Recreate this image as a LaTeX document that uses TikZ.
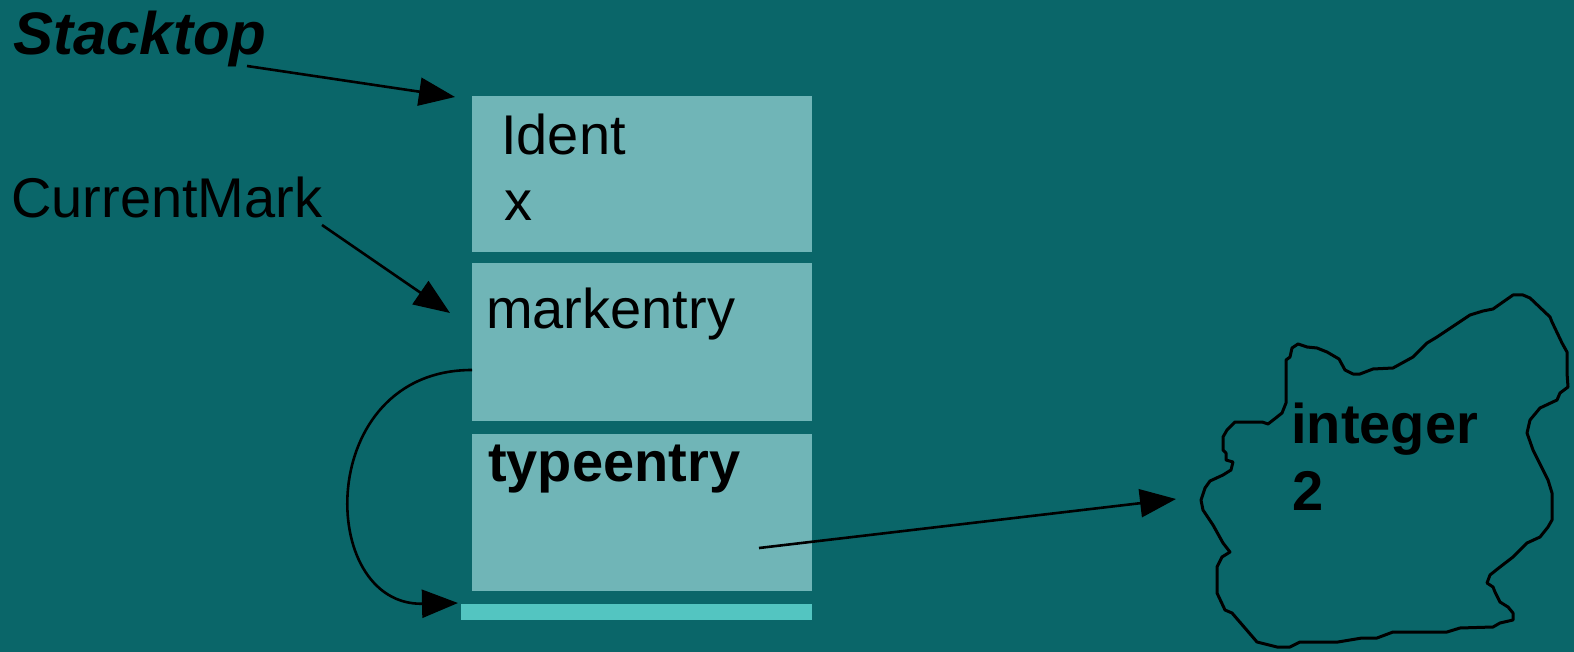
\documentclass[tikz,border=0pt]{standalone}
\usepackage{fontspec}
\setmainfont{Liberation Sans}
\usetikzlibrary{arrows.meta}
\definecolor{bgteal}{HTML}{0A6669}
\definecolor{boxteal}{HTML}{70B5B7}
\definecolor{barteal}{HTML}{53C5C1}
\tikzset{
  entrybox/.style={rectangle, fill=boxteal, draw=none, inner sep=0pt},
  lbl/.style={anchor=base west, inner sep=0pt, font=\fontsize{56}{66}\selectfont, text=black},
  conn/.style={line width=2.6pt, -{Triangle[length=36pt,width=28pt]}},
}
\begin{document}
\begin{tikzpicture}[x=1pt,y=-1pt]
\fill[bgteal] (0,0) rectangle (1574,652);
\useasboundingbox (0,0) rectangle (1574,652);
% boxes
\node[entrybox, minimum width=340pt, minimum height=156pt] (b1) at (642,174) {};
\node[entrybox, minimum width=340pt, minimum height=158pt] (b2) at (642,342) {};
\node[entrybox, minimum width=340pt, minimum height=157pt] (b3) at (642,512.5) {};
\node[rectangle, fill=barteal, inner sep=0pt, minimum width=351pt, minimum height=16pt] (bar) at (636.5,612) {};
% texts
\node[lbl] (ident) at (501,155) {Ident};
\node[lbl] (xv) at (504,221) {x};
\node[lbl] (mark) at (486,328) {markentry};
\node[lbl, font=\fontsize{56}{66}\selectfont\bfseries] (type) at (488,481) {typeentry};
\node[lbl, font=\fontsize{60}{66}\selectfont\bfseries\itshape] (stack) at (13,55) {Stacktop};
\node[lbl] (cur) at (11,218) {CurrentMark};
% cloud
\draw[line width=3pt, line join=round] (1523,295) -- (1513,295) -- (1493,309) -- (1483,311) -- (1470,315) -- (1437,337) -- (1427,343) -- (1413,357) -- (1393,368) -- (1373,369) -- (1360,374) -- (1353,374) -- (1345,370) -- (1339,359) -- (1327,352) -- (1317,348) -- (1307,347) -- (1298,344) -- (1292,348) -- (1290,357) -- (1286,360) -- (1286,403) -- (1282,413) -- (1277,417) -- (1268,424) -- (1262,422) -- (1235,422) -- (1227,430) -- (1223,437) -- (1223,450) -- (1226,453) -- (1226,460) -- (1233,462) -- (1231,470) -- (1223,475) -- (1210,481) -- (1205,488) -- (1201,500) -- (1203,510) -- (1213,525) -- (1223,543) -- (1230,552) -- (1222,557) -- (1217,567) -- (1217,593) -- (1225,610) -- (1232,613) -- (1257,642) -- (1277,647) -- (1290,647) -- (1300,642) -- (1317,642) -- (1338,642) -- (1362,638) -- (1377,638) -- (1393,632) -- (1447,632) -- (1460,628) -- (1493,627) -- (1500,623) -- (1513,620) -- (1513,613) -- (1508,607) -- (1500,602) -- (1495,592) -- (1493,587) -- (1487,583) -- (1490,575) -- (1500,567) -- (1513,557) -- (1527,543) -- (1540,537) -- (1548,527) -- (1552,520) -- (1552,493) -- (1548,480) -- (1533,450) -- (1527,433) -- (1530,420) -- (1540,408) -- (1557,400) -- (1560,393) -- (1568,387) -- (1567,373) -- (1567,352) -- (1562,343) -- (1552,322) -- (1550,317) -- (1530,298) -- cycle;
\node[lbl, font=\fontsize{56}{66}\selectfont\bfseries] (int) at (1291,443) {integer};
\node[lbl, font=\fontsize{56}{66}\selectfont\bfseries] (two) at (1292,510) {2};
% connector coordinates
\coordinate (stA) at (247,66);
\coordinate (stB) at (455,97);
\coordinate (cmA) at (322,225);
\coordinate (cmB) at (450,313);
\coordinate (lpA) at (472,370);
\coordinate (lpB) at (458,603);
\coordinate (teA) at (759,548);
\coordinate (teB) at (1176,499);
\draw[conn] (stA) -- (stB);
\draw[conn] (cmA) -- (cmB);
\draw[conn] (lpA) .. controls (314,370) and (316,606) .. (lpB);
\draw[conn] (teA) -- (teB);
\end{tikzpicture}
\end{document}
